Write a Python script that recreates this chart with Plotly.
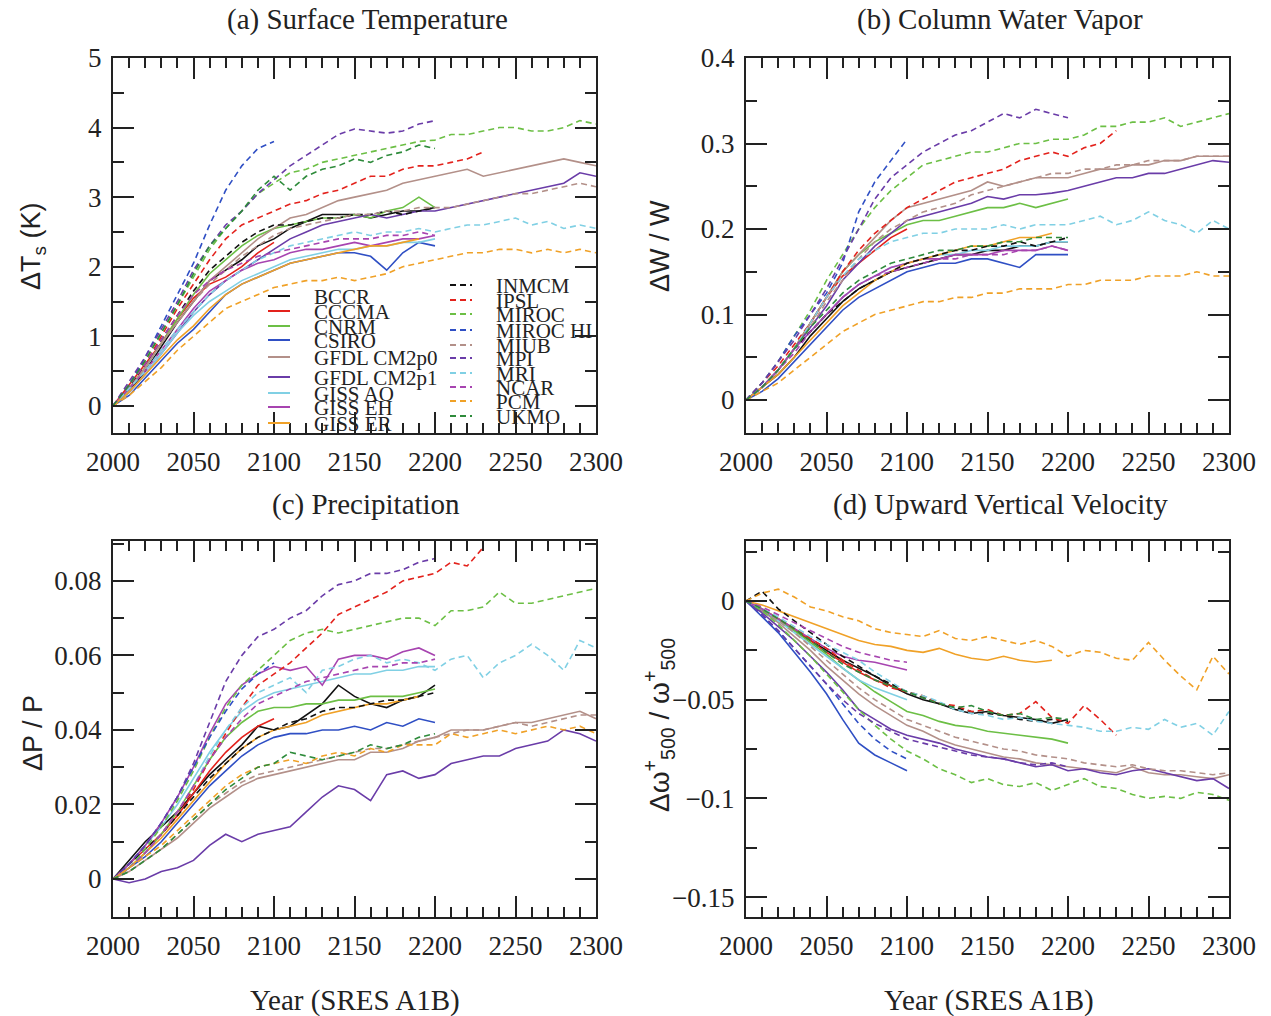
import plotly.graph_objects as go

W, H = 1271, 1016

# decadal time axis shared by every series (each series starts in 2000)
decades = list(range(2000, 2301, 10))

models = ["BCCR", "CCCMA", "CNRM", "CSIRO", "GFDL CM2p0", "GFDL CM2p1",
          "GISS AO", "GISS EH", "GISS ER",
          "INMCM", "IPSL", "MIROC", "MIROC HI", "MIUB", "MPI", "MRI",
          "NCAR", "PCM", "UKMO"]
colors = ["#111111", "#e3221c", "#6cbf45", "#2f4fc4", "#b39089", "#6a3ca8",
          "#80d0e4", "#a744b0", "#f0a127",
          "#111111", "#e3221c", "#6cbf45", "#2f4fc4", "#b39089", "#6a3ca8",
          "#80d0e4", "#a744b0", "#f0a127", "#2e8b3b"]
dashed = [False] * 9 + [True] * 10

# ---- (a) surface temperature change, K ----
ts_bccr = [0, 0.2, 0.5, 0.85, 1.2, 1.5, 1.8, 1.95, 2.1, 2.3, 2.4, 2.55, 2.65, 2.75, 2.75, 2.75, 2.7, 2.75, 2.8, 2.8, 2.85]
ts_cccma = [0, 0.3, 0.6, 0.9, 1.25, 1.55, 1.75, 1.85, 2.0, 2.2, 2.35]
ts_cnrm = [0, 0.25, 0.55, 0.9, 1.25, 1.6, 1.9, 2.1, 2.3, 2.45, 2.55, 2.6, 2.65, 2.7, 2.7, 2.75, 2.7, 2.8, 2.85, 3.0, 2.85]
ts_csiro = [0, 0.15, 0.4, 0.65, 0.9, 1.1, 1.35, 1.6, 1.75, 1.85, 1.95, 2.05, 2.1, 2.15, 2.2, 2.2, 2.15, 1.95, 2.2, 2.35, 2.3]
ts_gfdl0 = [0, 0.25, 0.55, 0.9, 1.2, 1.5, 1.8, 2.0, 2.2, 2.4, 2.55, 2.7, 2.75, 2.85, 2.95, 3.0, 3.05, 3.1, 3.2, 3.25, 3.3, 3.35, 3.4, 3.3, 3.35, 3.4, 3.45, 3.5, 3.55, 3.5, 3.45]
ts_gfdl1 = [0, 0.2, 0.45, 0.75, 1.05, 1.35, 1.6, 1.8, 1.95, 2.1, 2.25, 2.4, 2.5, 2.6, 2.65, 2.7, 2.75, 2.7, 2.75, 2.8, 2.8, 2.85, 2.9, 2.95, 3.0, 3.05, 3.1, 3.15, 3.2, 3.35, 3.3]
ts_gissao = [0, 0.2, 0.45, 0.75, 1.05, 1.3, 1.5, 1.65, 1.8, 1.9, 2.0, 2.1, 2.15, 2.2, 2.25, 2.25, 2.3, 2.3, 2.35, 2.35, 2.4]
ts_gisseh = [0, 0.25, 0.5, 0.8, 1.1, 1.4, 1.65, 1.8, 1.95, 2.05, 2.1, 2.2, 2.25, 2.25, 2.3, 2.35, 2.3, 2.35, 2.4, 2.4, 2.45]
ts_gisser = [0, 0.2, 0.45, 0.7, 0.95, 1.15, 1.4, 1.6, 1.75, 1.85, 1.95, 2.05, 2.1, 2.15, 2.2, 2.25, 2.3, 2.3, 2.35, 2.4]
ts_inmcm = [0, 0.25, 0.6, 0.95, 1.3, 1.65, 1.95, 2.15, 2.35, 2.5, 2.6, 2.6, 2.65, 2.7, 2.7, 2.75, 2.75, 2.8, 2.75, 2.8, 2.85]
ts_ipsl = [0, 0.3, 0.6, 1.0, 1.4, 1.75, 2.1, 2.4, 2.6, 2.7, 2.8, 2.9, 2.95, 3.05, 3.1, 3.2, 3.3, 3.3, 3.4, 3.45, 3.45, 3.5, 3.55, 3.65]
ts_miroc = [0, 0.3, 0.65, 1.05, 1.45, 1.85, 2.25, 2.55, 2.8, 3.05, 3.2, 3.35, 3.4, 3.5, 3.55, 3.6, 3.65, 3.7, 3.75, 3.8, 3.82, 3.9, 3.9, 3.95, 4.0, 4.0, 3.95, 3.95, 4.0, 4.1, 4.05]
ts_mirochi = [0, 0.3, 0.7, 1.15, 1.6, 2.05, 2.6, 3.1, 3.45, 3.7, 3.8]
ts_miub = [0, 0.25, 0.55, 0.9, 1.2, 1.5, 1.75, 1.95, 2.15, 2.3, 2.45, 2.55, 2.6, 2.65, 2.7, 2.75, 2.75, 2.8, 2.8, 2.85, 2.85, 2.85, 2.9, 2.95, 3.0, 3.05, 3.05, 3.1, 3.15, 3.2, 3.15]
ts_mpi = [0, 0.35, 0.7, 1.1, 1.5, 1.95, 2.3, 2.6, 2.8, 3.05, 3.25, 3.45, 3.6, 3.75, 3.9, 3.98, 3.95, 3.92, 3.95, 4.05, 4.1]
ts_mri = [0, 0.25, 0.5, 0.8, 1.1, 1.35, 1.6, 1.8, 1.95, 2.1, 2.2, 2.3, 2.35, 2.4, 2.45, 2.5, 2.45, 2.5, 2.5, 2.55, 2.5, 2.55, 2.6, 2.6, 2.65, 2.7, 2.6, 2.65, 2.55, 2.6, 2.55]
ts_ncar = [0, 0.3, 0.6, 0.95, 1.3, 1.6, 1.8, 1.95, 2.05, 2.15, 2.2, 2.25, 2.3, 2.35, 2.4, 2.4, 2.4, 2.45, 2.45, 2.5, 2.45]
ts_pcm = [0, 0.15, 0.35, 0.55, 0.8, 1.0, 1.2, 1.4, 1.5, 1.6, 1.7, 1.75, 1.8, 1.8, 1.85, 1.8, 1.85, 1.9, 2.0, 2.05, 2.1, 2.15, 2.2, 2.2, 2.25, 2.25, 2.2, 2.25, 2.2, 2.25, 2.2]
ts_ukmo = [0, 0.3, 0.65, 1.05, 1.45, 1.9, 2.3, 2.55, 2.8, 3.1, 3.3, 3.1, 3.3, 3.4, 3.45, 3.55, 3.5, 3.6, 3.65, 3.75, 3.7]

# ---- (b) fractional column water vapor change ----
wv_bccr = [0, 0.015, 0.03, 0.05, 0.075, 0.095, 0.115, 0.13, 0.14, 0.15, 0.155, 0.16, 0.165, 0.17, 0.17, 0.175, 0.175, 0.18, 0.18, 0.185, 0.185]
wv_cccma = [0, 0.015, 0.035, 0.06, 0.09, 0.12, 0.145, 0.16, 0.175, 0.19, 0.2]
wv_cnrm = [0, 0.015, 0.035, 0.06, 0.09, 0.12, 0.15, 0.17, 0.185, 0.195, 0.205, 0.21, 0.21, 0.215, 0.22, 0.225, 0.225, 0.23, 0.225, 0.23, 0.235]
wv_csiro = [0, 0.01, 0.025, 0.045, 0.065, 0.085, 0.105, 0.12, 0.13, 0.14, 0.15, 0.155, 0.16, 0.16, 0.165, 0.165, 0.16, 0.155, 0.17, 0.17, 0.17]
wv_gfdl0 = [0, 0.015, 0.035, 0.06, 0.09, 0.12, 0.15, 0.17, 0.19, 0.21, 0.225, 0.23, 0.235, 0.24, 0.245, 0.255, 0.25, 0.255, 0.26, 0.26, 0.26, 0.265, 0.27, 0.27, 0.275, 0.275, 0.28, 0.28, 0.285, 0.285, 0.285]
wv_gfdl1 = [0, 0.015, 0.035, 0.06, 0.085, 0.11, 0.14, 0.16, 0.18, 0.195, 0.21, 0.215, 0.22, 0.225, 0.23, 0.238, 0.235, 0.24, 0.24, 0.242, 0.245, 0.25, 0.255, 0.26, 0.26, 0.265, 0.265, 0.27, 0.275, 0.28, 0.278]
wv_gissao = [0, 0.015, 0.035, 0.06, 0.08, 0.1, 0.12, 0.135, 0.145, 0.155, 0.16, 0.165, 0.17, 0.17, 0.175, 0.175, 0.18, 0.18, 0.18, 0.185, 0.185]
wv_gisseh = [0, 0.015, 0.035, 0.06, 0.08, 0.1, 0.12, 0.135, 0.145, 0.155, 0.16, 0.165, 0.165, 0.17, 0.17, 0.17, 0.175, 0.175, 0.175, 0.18, 0.175]
wv_gisser = [0, 0.015, 0.03, 0.05, 0.07, 0.09, 0.11, 0.125, 0.14, 0.15, 0.16, 0.165, 0.17, 0.175, 0.18, 0.18, 0.185, 0.19, 0.19, 0.195]
wv_inmcm = [0, 0.015, 0.035, 0.06, 0.08, 0.1, 0.115, 0.13, 0.14, 0.15, 0.16, 0.165, 0.17, 0.175, 0.175, 0.18, 0.18, 0.185, 0.18, 0.185, 0.19]
wv_ipsl = [0, 0.02, 0.04, 0.065, 0.09, 0.12, 0.15, 0.175, 0.195, 0.21, 0.225, 0.235, 0.245, 0.255, 0.26, 0.265, 0.27, 0.28, 0.285, 0.29, 0.285, 0.295, 0.3, 0.315]
wv_miroc = [0, 0.02, 0.045, 0.075, 0.105, 0.14, 0.17, 0.2, 0.225, 0.245, 0.26, 0.275, 0.28, 0.285, 0.29, 0.29, 0.295, 0.3, 0.3, 0.305, 0.305, 0.31, 0.32, 0.32, 0.325, 0.325, 0.33, 0.32, 0.325, 0.33, 0.335]
wv_mirochi = [0, 0.02, 0.045, 0.075, 0.1, 0.125, 0.16, 0.22, 0.255, 0.28, 0.305]
wv_miub = [0, 0.015, 0.035, 0.06, 0.085, 0.115, 0.14, 0.165, 0.185, 0.2, 0.21, 0.22, 0.225, 0.23, 0.24, 0.245, 0.25, 0.255, 0.26, 0.265, 0.265, 0.27, 0.27, 0.275, 0.275, 0.28, 0.28, 0.28, 0.285, 0.285, 0.285]
wv_mpi = [0, 0.02, 0.045, 0.07, 0.1, 0.13, 0.165, 0.2, 0.235, 0.26, 0.275, 0.29, 0.3, 0.31, 0.315, 0.325, 0.335, 0.33, 0.34, 0.335, 0.33]
wv_mri = [0, 0.015, 0.035, 0.06, 0.09, 0.12, 0.145, 0.165, 0.175, 0.185, 0.19, 0.195, 0.195, 0.2, 0.2, 0.2, 0.205, 0.2, 0.205, 0.205, 0.205, 0.21, 0.215, 0.205, 0.21, 0.22, 0.21, 0.205, 0.195, 0.21, 0.2]
wv_ncar = [0, 0.015, 0.035, 0.055, 0.08, 0.1, 0.12, 0.135, 0.145, 0.15, 0.155, 0.16, 0.165, 0.165, 0.17, 0.17, 0.17, 0.175, 0.175, 0.18, 0.175]
wv_pcm = [0, 0.01, 0.02, 0.035, 0.05, 0.065, 0.08, 0.09, 0.1, 0.105, 0.11, 0.115, 0.115, 0.12, 0.12, 0.125, 0.125, 0.13, 0.13, 0.13, 0.135, 0.135, 0.14, 0.14, 0.14, 0.145, 0.145, 0.145, 0.15, 0.145, 0.145]
wv_ukmo = [0, 0.015, 0.035, 0.06, 0.085, 0.105, 0.125, 0.14, 0.15, 0.16, 0.165, 0.17, 0.175, 0.175, 0.18, 0.18, 0.185, 0.185, 0.19, 0.19, 0.19]

# ---- (c) fractional precipitation change ----
pr_bccr = [0, 0.005, 0.01, 0.014, 0.018, 0.023, 0.028, 0.032, 0.036, 0.041, 0.04, 0.041, 0.044, 0.047, 0.052, 0.049, 0.047, 0.046, 0.048, 0.049, 0.052]
pr_cccma = [0, 0.004, 0.008, 0.012, 0.017, 0.023, 0.029, 0.034, 0.038, 0.041, 0.043]
pr_cnrm = [0, 0.003, 0.007, 0.012, 0.018, 0.025, 0.032, 0.038, 0.042, 0.045, 0.046, 0.046, 0.047, 0.047, 0.048, 0.048, 0.049, 0.049, 0.049, 0.05, 0.051]
pr_csiro = [0, 0.003, 0.006, 0.01, 0.015, 0.02, 0.025, 0.029, 0.033, 0.036, 0.038, 0.039, 0.039, 0.04, 0.04, 0.041, 0.04, 0.042, 0.041, 0.043, 0.042]
pr_gfdl0 = [0, 0.002, 0.005, 0.008, 0.011, 0.015, 0.019, 0.022, 0.025, 0.027, 0.028, 0.029, 0.03, 0.031, 0.032, 0.032, 0.034, 0.034, 0.035, 0.037, 0.038, 0.04, 0.04, 0.04, 0.041, 0.042, 0.042, 0.043, 0.044, 0.045, 0.043]
pr_gfdl1 = [0, -0.001, 0.0, 0.002, 0.003, 0.005, 0.009, 0.012, 0.01, 0.012, 0.013, 0.014, 0.018, 0.022, 0.025, 0.024, 0.021, 0.028, 0.029, 0.027, 0.028, 0.031, 0.032, 0.033, 0.033, 0.035, 0.036, 0.037, 0.04, 0.039, 0.037]
pr_gissao = [0, 0.004, 0.009, 0.014, 0.02, 0.027, 0.034, 0.04, 0.045, 0.048, 0.05, 0.051, 0.052, 0.053, 0.054, 0.055, 0.055, 0.056, 0.056, 0.057, 0.057]
pr_gisseh = [0, 0.004, 0.009, 0.015, 0.022, 0.03, 0.039, 0.047, 0.052, 0.055, 0.057, 0.056, 0.057, 0.052, 0.059, 0.06, 0.06, 0.059, 0.061, 0.062, 0.06]
pr_gisser = [0, 0.003, 0.007, 0.011, 0.016, 0.021, 0.026, 0.031, 0.035, 0.038, 0.04, 0.041, 0.042, 0.044, 0.045, 0.046, 0.047, 0.047, 0.048, 0.049]
pr_inmcm = [0, 0.004, 0.008, 0.012, 0.017, 0.022, 0.027, 0.031, 0.035, 0.038, 0.04, 0.042, 0.043, 0.045, 0.046, 0.046, 0.047, 0.048, 0.048, 0.049, 0.05]
pr_ipsl = [0, 0.003, 0.007, 0.012, 0.018, 0.024, 0.032, 0.039, 0.046, 0.052, 0.055, 0.058, 0.062, 0.066, 0.071, 0.073, 0.075, 0.077, 0.08, 0.081, 0.082, 0.085, 0.084, 0.089]
pr_miroc = [0, 0.003, 0.008, 0.014, 0.021, 0.029, 0.038, 0.046, 0.052, 0.056, 0.06, 0.064, 0.066, 0.067, 0.066, 0.067, 0.068, 0.069, 0.07, 0.07, 0.068, 0.072, 0.072, 0.073, 0.077, 0.074, 0.074, 0.075, 0.076, 0.077, 0.078]
pr_mirochi = [0, 0.004, 0.009, 0.015, 0.022, 0.03, 0.038, 0.045, 0.051, 0.055, 0.058]
pr_miub = [0, 0.002, 0.005, 0.008, 0.012, 0.016, 0.02, 0.023, 0.026, 0.028, 0.029, 0.03, 0.031, 0.032, 0.033, 0.034, 0.035, 0.035, 0.036, 0.037, 0.038, 0.039, 0.04, 0.04, 0.041, 0.042, 0.041, 0.042, 0.043, 0.044, 0.044]
pr_mpi = [0, 0.004, 0.009, 0.015, 0.022, 0.031, 0.042, 0.053, 0.06, 0.065, 0.067, 0.07, 0.072, 0.076, 0.079, 0.08, 0.082, 0.082, 0.083, 0.085, 0.086]
pr_mri = [0, 0.003, 0.007, 0.012, 0.018, 0.025, 0.033, 0.04, 0.046, 0.05, 0.052, 0.054, 0.05, 0.056, 0.057, 0.059, 0.06, 0.058, 0.059, 0.058, 0.056, 0.059, 0.06, 0.054, 0.058, 0.06, 0.063, 0.06, 0.056, 0.064, 0.062]
pr_ncar = [0, 0.003, 0.007, 0.012, 0.018, 0.025, 0.032, 0.038, 0.043, 0.047, 0.049, 0.051, 0.053, 0.054, 0.055, 0.056, 0.057, 0.057, 0.058, 0.058, 0.059]
pr_pcm = [0, 0.003, 0.006, 0.009, 0.013, 0.017, 0.021, 0.025, 0.028, 0.03, 0.031, 0.032, 0.031, 0.033, 0.034, 0.033, 0.035, 0.034, 0.036, 0.036, 0.036, 0.039, 0.038, 0.039, 0.04, 0.039, 0.04, 0.041, 0.04, 0.041, 0.039]
pr_ukmo = [0, 0.002, 0.005, 0.008, 0.012, 0.016, 0.02, 0.024, 0.027, 0.03, 0.031, 0.034, 0.033, 0.032, 0.033, 0.034, 0.036, 0.035, 0.036, 0.038, 0.039]

# ---- (d) fractional change of upward 500 hPa vertical velocity ----
om_bccr = [0, -0.005, -0.01, -0.015, -0.02, -0.025, -0.03, -0.034, -0.038, -0.043, -0.047, -0.05, -0.052, -0.055, -0.057, -0.056, -0.058, -0.059, -0.06, -0.062, -0.06]
om_cccma = [0, -0.004, -0.009, -0.014, -0.02, -0.026, -0.031, -0.036, -0.04, -0.043, -0.046]
om_cnrm = [0, -0.004, -0.009, -0.015, -0.021, -0.027, -0.034, -0.04, -0.046, -0.051, -0.056, -0.058, -0.061, -0.063, -0.064, -0.066, -0.067, -0.068, -0.069, -0.07, -0.072]
om_csiro = [0, -0.008, -0.016, -0.026, -0.036, -0.047, -0.06, -0.072, -0.078, -0.082, -0.086]
om_gfdl0 = [0, -0.005, -0.011, -0.018, -0.025, -0.033, -0.04, -0.047, -0.053, -0.058, -0.063, -0.066, -0.07, -0.073, -0.075, -0.077, -0.079, -0.08, -0.082, -0.083, -0.084, -0.085, -0.086, -0.087, -0.084, -0.087, -0.088, -0.088, -0.089, -0.09, -0.088]
om_gfdl1 = [0, -0.006, -0.013, -0.02, -0.028, -0.036, -0.045, -0.055, -0.06, -0.065, -0.068, -0.07, -0.072, -0.075, -0.077, -0.079, -0.08, -0.082, -0.084, -0.083, -0.086, -0.085, -0.087, -0.088, -0.086, -0.085, -0.087, -0.089, -0.091, -0.09, -0.095]
om_gissao = [0, -0.004, -0.01, -0.016, -0.022, -0.028, -0.034, -0.04, -0.044, -0.047, -0.05]
om_gisseh = [0, -0.004, -0.009, -0.014, -0.019, -0.024, -0.028, -0.03, -0.031, -0.033, -0.035]
om_gisser = [0, -0.002, -0.005, -0.008, -0.011, -0.014, -0.017, -0.02, -0.022, -0.023, -0.025, -0.026, -0.024, -0.027, -0.029, -0.03, -0.028, -0.03, -0.031, -0.03]
om_inmcm = [0, 0.005, -0.004, -0.01, -0.016, -0.022, -0.028, -0.033, -0.038, -0.042, -0.046, -0.049, -0.052, -0.054, -0.056, -0.057, -0.058, -0.06, -0.061, -0.06, -0.061]
om_ipsl = [0, -0.004, -0.009, -0.014, -0.019, -0.024, -0.03, -0.035, -0.04, -0.044, -0.046, -0.048, -0.052, -0.053, -0.056, -0.055, -0.058, -0.057, -0.051, -0.059, -0.062, -0.053, -0.06, -0.068]
om_miroc = [0, -0.005, -0.012, -0.02, -0.028, -0.037, -0.046, -0.055, -0.063, -0.07, -0.076, -0.08, -0.085, -0.088, -0.092, -0.09, -0.093, -0.094, -0.092, -0.096, -0.093, -0.09, -0.094, -0.095, -0.098, -0.1, -0.099, -0.1, -0.097, -0.098, -0.101]
om_mirochi = [0, -0.007, -0.015, -0.024, -0.033, -0.042, -0.052, -0.062, -0.07, -0.076, -0.08]
om_miub = [0, -0.004, -0.01, -0.016, -0.023, -0.03, -0.037, -0.044, -0.05, -0.055, -0.06, -0.063, -0.066, -0.069, -0.071, -0.073, -0.075, -0.076, -0.078, -0.079, -0.08, -0.082, -0.083, -0.084, -0.083, -0.085, -0.086, -0.086, -0.087, -0.088, -0.087]
om_mpi = [0, -0.007, -0.015, -0.024, -0.033, -0.042, -0.05, -0.057, -0.062, -0.066, -0.07, -0.072, -0.074, -0.076, -0.078, -0.079, -0.08, -0.082, -0.083, -0.082, -0.084]
om_mri = [0, -0.004, -0.008, -0.013, -0.018, -0.022, -0.026, -0.03, -0.036, -0.041, -0.046, -0.048, -0.051, -0.055, -0.057, -0.058, -0.06, -0.059, -0.061, -0.062, -0.063, -0.064, -0.066, -0.066, -0.064, -0.065, -0.06, -0.064, -0.062, -0.068, -0.056]
om_ncar = [0, -0.003, -0.007, -0.011, -0.015, -0.019, -0.023, -0.026, -0.028, -0.03, -0.031]
om_pcm = [0, 0.004, 0.006, 0.002, -0.003, -0.005, -0.008, -0.01, -0.014, -0.016, -0.017, -0.018, -0.015, -0.019, -0.02, -0.018, -0.02, -0.022, -0.02, -0.023, -0.028, -0.025, -0.026, -0.029, -0.03, -0.021, -0.03, -0.038, -0.045, -0.028, -0.037]
om_ukmo = [0, -0.004, -0.009, -0.014, -0.02, -0.026, -0.032, -0.036, -0.04, -0.043, -0.046, -0.049, -0.052, -0.054, -0.053, -0.056, -0.058, -0.057, -0.06, -0.059, -0.06]

series_ts = [ts_bccr, ts_cccma, ts_cnrm, ts_csiro, ts_gfdl0, ts_gfdl1, ts_gissao, ts_gisseh, ts_gisser,
             ts_inmcm, ts_ipsl, ts_miroc, ts_mirochi, ts_miub, ts_mpi, ts_mri, ts_ncar, ts_pcm, ts_ukmo]
series_wv = [wv_bccr, wv_cccma, wv_cnrm, wv_csiro, wv_gfdl0, wv_gfdl1, wv_gissao, wv_gisseh, wv_gisser,
             wv_inmcm, wv_ipsl, wv_miroc, wv_mirochi, wv_miub, wv_mpi, wv_mri, wv_ncar, wv_pcm, wv_ukmo]
series_pr = [pr_bccr, pr_cccma, pr_cnrm, pr_csiro, pr_gfdl0, pr_gfdl1, pr_gissao, pr_gisseh, pr_gisser,
             pr_inmcm, pr_ipsl, pr_miroc, pr_mirochi, pr_miub, pr_mpi, pr_mri, pr_ncar, pr_pcm, pr_ukmo]
series_om = [om_bccr, om_cccma, om_cnrm, om_csiro, om_gfdl0, om_gfdl1, om_gissao, om_gisseh, om_gisser,
             om_inmcm, om_ipsl, om_miroc, om_mirochi, om_miub, om_mpi, om_mri, om_ncar, om_pcm, om_ukmo]

year_ticks = [2000, 2050, 2100, 2150, 2200, 2250, 2300]
ts_ticks = [0, 1, 2, 3, 4, 5]
wv_ticks = [0, 0.1, 0.2, 0.3, 0.4]
pr_ticks = [0, 0.02, 0.04, 0.06, 0.08]
om_ticks = [0, -0.05, -0.1, -0.15]
om_ticktext = ["0", "\u22120.05", "\u22120.1", "\u22120.15"]

SERIF = "Liberation Serif"
SANS = "Liberation Sans"
INK = "#222222"


def fx(p):
    return p / W


def fy(p):
    return 1 - p / H


# panel frames in pixels: (left, right, top, bottom)
frames = [(113, 596, 58, 433), (746, 1229, 58, 433),
          (113, 596, 541, 917), (746, 1229, 541, 917)]
yranges = [(-0.39, 5.0), (-0.0386, 0.4), (-0.0102, 0.0907), (-0.1601, 0.0304)]
ymajor = [ts_ticks, wv_ticks, pr_ticks, om_ticks]
ytext = [[str(v) for v in ts_ticks], [str(v) for v in wv_ticks],
         [str(v) for v in pr_ticks], om_ticktext]
yminor = [0.5, 0.05, 0.01, 0.025]
all_series = [series_ts, series_wv, series_pr, series_om]

fig = go.Figure()
layout = dict(
    width=W, height=H,
    margin=dict(l=0, r=0, t=0, b=0, pad=0, autoexpand=False),
    paper_bgcolor="white", plot_bgcolor="white", showlegend=False,
    font=dict(family=SERIF, size=27, color=INK),
)

for p in range(4):
    n = "" if p == 0 else str(p + 1)
    l, r, t, b = frames[p]
    layout["xaxis" + n] = dict(
        domain=[fx(l), fx(r)], range=[2000, 2300], anchor="y" + n,
        tickvals=year_ticks, ticktext=[str(v) for v in year_ticks],
        ticks="inside", ticklen=21, tickwidth=2, tickcolor=INK,
        minor=dict(dtick=10, tick0=2000, ticks="inside", ticklen=10, tickwidth=2, tickcolor=INK),
        showline=True, linewidth=2, linecolor=INK, mirror="ticks",
        showgrid=False, zeroline=False, automargin=False, ticklabelstandoff=4,
        tickfont=dict(family=SERIF, size=27, color=INK),
    )
    y0, y1 = yranges[p]
    layout["yaxis" + n] = dict(
        domain=[fy(b), fy(t)], range=[y0, y1], anchor="x" + n,
        tickvals=ymajor[p], ticktext=ytext[p],
        ticks="inside", ticklen=21, tickwidth=2, tickcolor=INK,
        minor=dict(dtick=yminor[p], tick0=0, ticks="inside", ticklen=11, tickwidth=2, tickcolor=INK),
        showline=True, linewidth=2, linecolor=INK, mirror="ticks",
        showgrid=False, zeroline=False, automargin=False, ticklabelstandoff=4,
        tickfont=dict(family=SERIF, size=27, color=INK),
    )
    for i, vals in enumerate(all_series[p]):
        fig.add_trace(go.Scatter(
            x=decades[:len(vals)], y=vals, mode="lines",
            xaxis="x" + n, yaxis="y" + n, name=models[i],
            line=dict(color=colors[i], width=1.6,
                      dash="6px,4px" if dashed[i] else "solid"),
        ))

annotations = []
shapes = []

# panel titles
titles = [("(a) Surface Temperature", 367, 20), ("(b) Column Water Vapor", 1000, 20),
          ("(c) Precipitation", 366, 504), ("(d) Upward Vertical Velocity", 1000, 504)]
for txt, x, y in titles:
    annotations.append(dict(text=txt, x=fx(x), y=fy(y), xref="paper", yref="paper",
                            xanchor="center", yanchor="middle", showarrow=False,
                            font=dict(family=SERIF, size=29, color=INK)))

# x-axis captions under the bottom row
for x in (355, 989):
    annotations.append(dict(text="Year (SRES A1B)", x=fx(x), y=fy(1000), xref="paper", yref="paper",
                            xanchor="center", yanchor="middle", showarrow=False,
                            font=dict(family=SERIF, size=29, color=INK)))

# rotated y-axis captions
ylabels = [("\u0394T<sub>s</sub> (K)", 33, 247, 27), ("\u0394W / W", 660, 246, 27),
           ("\u0394P / P", 33, 733, 27),
           ("\u0394\u03c9<sup>+</sup><sub>500</sub> / \u03c9<sup>+</sup><sub>500</sub>", 659, 725, 28)]
for txt, x, y, sz in ylabels:
    annotations.append(dict(text=txt, x=fx(x), y=fy(y), xref="paper", yref="paper",
                            xanchor="center", yanchor="middle", showarrow=False, textangle=-90,
                            font=dict(family=SANS, size=sz, color=INK)))

# two-column key inside panel (a)
col1_rows = [296, 311, 326, 340, 357, 377, 393, 407, 423]
col2_rows = [285, 300, 314, 330, 345, 358, 373, 387, 401, 416]
rows = col1_rows + col2_rows
for i, name in enumerate(models):
    if i < 9:
        x0, x1, xt = 268, 290, 312
    else:
        x0, x1, xt = 450, 472, 494
    y = rows[i]
    shapes.append(dict(type="line", xref="paper", yref="paper",
                       x0=fx(x0), x1=fx(x1), y0=fy(y), y1=fy(y),
                       line=dict(color=colors[i], width=2,
                                 dash="6px,4px" if dashed[i] else "solid")))
    annotations.append(dict(text=name, x=fx(xt), y=fy(y + 1), xref="paper", yref="paper",
                            xanchor="left", yanchor="middle", showarrow=False,
                            font=dict(family=SERIF, size=21, color=INK)))

layout["annotations"] = annotations
layout["shapes"] = shapes
fig.update_layout(**layout)
fig.write_html("out.html")
